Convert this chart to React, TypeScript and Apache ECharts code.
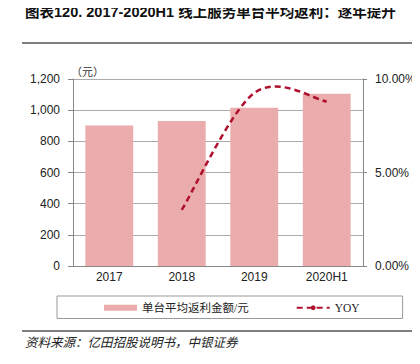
import React, { useEffect, useRef } from "react";
import * as echarts from "echarts";

const categories = ["2017", "2018", "2019", "2020H1"];
const rebateValues = [902, 930, 1015, 1105];
const yoyValues: (number | null)[] = [null, 3.0, 9.25, 8.8];
const leftTicks = [0, 200, 400, 600, 800, 1000, 1200];

const TITLE = "图表120. 2017-2020H1 线上服务单台平均返利：逐年提升";
const SOURCE = "资料来源：亿田招股说明书，中银证券";
const BAR_NAME = "单台平均返利金额/元";
const LINE_NAME = "YOY";
const LINE_COLOR = "#B0102E";

export default function App() {
  const ref = useRef<HTMLDivElement>(null);
  useEffect(() => {
    if (!ref.current) return;
    const chart = echarts.init(ref.current, null, { renderer: "svg" });
    const sans = "'Liberation Sans', 'Noto Sans CJK SC', sans-serif";
    const yoyData = yoyValues
      .map((v, i) => [i, v])
      .filter((d) => d[1] !== null) as number[][];

    chart.setOption({
      animation: false,
      backgroundColor: "#fff",
      grid: { left: 73, right: 57, top: 79, bottom: 98, containLabel: false },
      graphic: [
        {
          type: "text",
          left: 25,
          top: 5,
          style: {
            text: TITLE,
            font: "bold 14.5px 'Liberation Sans', 'Noto Sans CJK SC', sans-serif",
            fill: "#111",
          },
        },
        {
          type: "line",
          shape: { x1: 22, y1: 43, x2: 420, y2: 43 },
          style: { stroke: "#555", lineWidth: 1.5 },
        },
        {
          type: "text",
          left: 71,
          top: 65,
          style: { text: "（元）", font: "11px 'Noto Sans CJK SC', sans-serif", fill: "#333" },
        },
        {
          type: "line",
          shape: { x1: 22, y1: 331, x2: 420, y2: 331 },
          style: { stroke: "#555", lineWidth: 1.5 },
        },
        {
          type: "text",
          left: 25,
          top: 335,
          style: {
            text: SOURCE,
            font: "italic 12.5px 'Noto Sans CJK SC', sans-serif",
            fill: "#222",
          },
        },
      ],
      legend: {
        left: 57,
        top: 296,
        width: 343,
        padding: [6, 43, 5, 47],
        itemGap: 47,
        itemWidth: 33,
        itemHeight: 6,
        borderColor: "#999",
        borderWidth: 1,
        textStyle: {
          fontFamily: "'Liberation Serif', 'Noto Sans CJK SC', serif",
          fontSize: 11.5,
          color: "#222",
        },
        data: [
          { name: BAR_NAME, icon: "rect" },
          { name: LINE_NAME },
        ],
      },
      xAxis: {
        type: "category",
        data: categories,
        axisLine: { lineStyle: { color: "#888" } },
        axisTick: { length: 4, lineStyle: { color: "#888" } },
        axisLabel: { color: "#222", fontFamily: sans, fontSize: 12, margin: 5 },
      },
      yAxis: [
        {
          type: "value",
          min: leftTicks[0],
          max: leftTicks[leftTicks.length - 1],
          interval: leftTicks[1] - leftTicks[0],
          axisLine: { show: true, lineStyle: { color: "#888" } },
          axisTick: { show: true, length: 5, lineStyle: { color: "#888" } },
          axisLabel: {
            color: "#222",
            fontFamily: sans,
            fontSize: 12,
            margin: 13,
            formatter: (v: number) => v.toLocaleString("en-US"),
          },
          splitLine: { lineStyle: { color: "#aaa" } },
        },
        {
          type: "value",
          min: 0,
          max: 10,
          interval: 5,
          position: "right",
          axisLine: { show: true, lineStyle: { color: "#888" } },
          axisTick: { show: true, length: 4, lineStyle: { color: "#888" } },
          axisLabel: {
            color: "#222",
            fontFamily: sans,
            fontSize: 12,
            margin: 12,
            formatter: (v: number) => v.toFixed(2) + "%",
          },
          splitLine: { show: false },
        },
      ],
      series: [
        {
          name: BAR_NAME,
          type: "bar",
          data: rebateValues,
          barWidth: "66%",
          itemStyle: { color: "#EAACAC" },
          yAxisIndex: 0,
          z: 2,
        },
        {
          // legend entry only (the curve itself is drawn by the custom series below)
          name: LINE_NAME,
          type: "line",
          data: [],
          yAxisIndex: 1,
          symbol: "none",
          lineStyle: { color: LINE_COLOR, width: 2.5, type: [6, 4] },
          itemStyle: { color: LINE_COLOR },
        },
        {
          name: LINE_NAME,
          type: "custom",
          yAxisIndex: 1,
          z: 10,
          data: yoyData,
          encode: { x: 0, y: 1 },
          itemStyle: { color: LINE_COLOR },
          renderItem: (params: any, api: any) => {
            if (params.dataIndex !== yoyData.length - 1) return null;
            const pts = yoyData.map((d) => api.coord([d[0], d[1]]));
            const n = pts.length;
            let d = `M${pts[0][0]},${pts[0][1]}`;
            for (let i = 0; i < n - 1; i++) {
              const p0 = pts[Math.max(i - 1, 0)];
              const p1 = pts[i];
              const p2 = pts[i + 1];
              const p3 = pts[Math.min(i + 2, n - 1)];
              const c1x = p1[0] + (p2[0] - p0[0]) / 6;
              const c1y = p1[1] + (p2[1] - p0[1]) / 6;
              const c2x = p2[0] - (p3[0] - p1[0]) / 6;
              const c2y = p2[1] - (p3[1] - p1[1]) / 6;
              d += ` C${c1x},${c1y} ${c2x},${c2y} ${p2[0]},${p2[1]}`;
            }
            return {
              type: "path",
              z2: 100,
              shape: { pathData: d },
              style: {
                fill: "none",
                stroke: LINE_COLOR,
                lineWidth: 2.5,
                lineDash: [6, 4],
              },
            };
          },
        },
      ],
    });
    return () => chart.dispose();
  }, []);
  return <div ref={ref} style={{ width: 420, height: 364, margin: -8 }} />;
}
